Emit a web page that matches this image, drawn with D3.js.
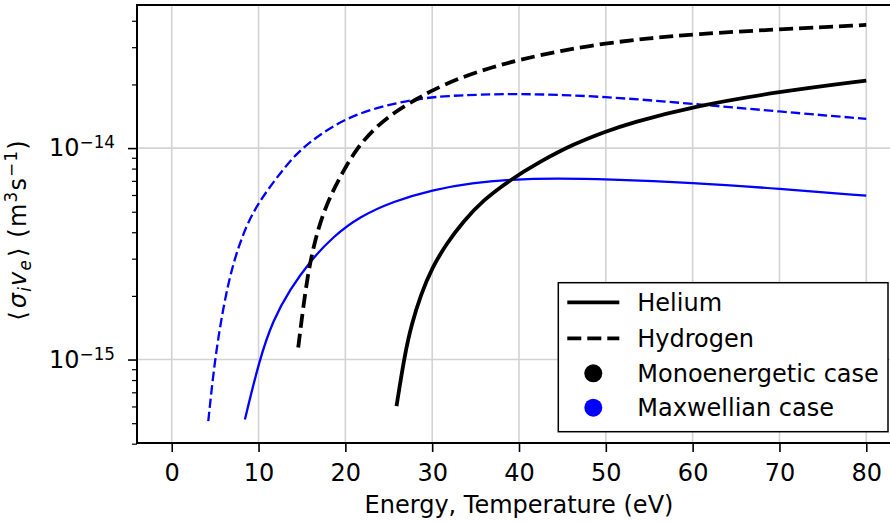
<!DOCTYPE html>
<html>
  <script src="https://d3js.org/d3.v7.min.js"></script>
  <style>
    body { margin: 0; background: #fff; }
    text { font-family: "DejaVu Sans", sans-serif; }
  </style>
  <body>
    <svg id="chart"></svg>
<script>
// ---------------------------
// Data
// ---------------------------
var heliumMono = [[25.89,6.02e-16],[26.84,1.056e-15],[27.62,1.463e-15],[28.69,2.028e-15],[29.99,2.72e-15],
  [31.65,3.53e-15],[33.56,4.485e-15],[35.86,5.67e-15],[38.93,7.05e-15],[42.38,8.61e-15],[46.21,1.042e-14],
  [50,1.198e-14],[52.74,1.31e-14],[59.95,1.572e-14],[70,1.851e-14],[80,2.086e-14]];
var hydrogenMono = [[14.57,1.139e-15],[15.11,1.722e-15],[15.68,2.52e-15],[16.26,3.31e-15],[17.07,4.44e-15],
  [18.22,5.89e-15],[19.71,7.73e-15],[21.33,1.0e-14],[23.4,1.247e-14],[25.7,1.484e-14],[28.35,1.719e-14],
  [30,1.875e-14],[33.17,2.148e-14],[36.63,2.395e-14],[40,2.613e-14],[44.69,2.882e-14],[50,3.133e-14],
  [55.04,3.308e-14],[60,3.455e-14],[70,3.648e-14],[80,3.823e-14]];
var hydrogenMaxw = [[4.21,5.11e-16],[4.93,9.79e-16],[5.94,1.786e-15],[7.09,2.903e-15],[8.63,4.366e-15],
  [10.16,5.64e-15],[12.08,7.24e-15],[14.38,9.5e-15],[17.07,1.162e-14],[20.14,1.386e-14],[23.97,1.572e-14],
  [27.8,1.691e-14],[30.87,1.766e-14],[40,1.819e-14],[50,1.753e-14],[60,1.619e-14],[70,1.489e-14],[80,1.375e-14]];
var heliumMaxw = [[8.43,5.21e-16],[10.1,1.0e-15],[11.69,1.545e-15],[13.61,2.14e-15],[15.91,2.912e-15],
  [18.6,3.823e-15],[21.67,4.75e-15],[25.5,5.595e-15],[30,6.353e-15],[34.71,6.856e-15],[38.93,7.099e-15],
  [44.3,7.2e-15],[50,7.12e-15],[60,6.856e-15],[70,6.424e-15],[80,5.953e-15]];

var xTicks = [0,10,20,30,40,50,60,70,80];
var yMajor = [1e-15, 1e-14];
var yMajorExp = ["\u221215", "\u221214"];
var yMinor = [4e-16,5e-16,6e-16,7e-16,8e-16,9e-16,2e-15,3e-15,4e-15,5e-15,6e-15,7e-15,8e-15,9e-15,2e-14,3e-14,4e-14];
var legendNames = ["Helium", "Hydrogen", "Monoenergetic case", "Maxwellian case"];

// ---------------------------
// Constants
// ---------------------------
var W = 890, H = 522;
var plotLeft = 137, plotRight = 901, plotTop = 5, plotBottom = 443;
var fontSize = 24, smallSize = 16.8;
var gridColour = "#d3d3d3";

var svg = d3.select("#chart").attr("width", W).attr("height", H);
svg.append("rect").attr("width", W).attr("height", H).attr("fill", "#fff");

var x = d3.scaleLinear().domain([-4, 84]).range([plotLeft, plotRight]);
var y = d3.scaleLog().domain([4.03e-16, 4.75e-14]).range([plotBottom, plotTop]);

// grid
var grid = svg.append("g");
grid.selectAll(".gx").data(xTicks).enter().append("line")
  .attr("x1", d => x(d)).attr("x2", d => x(d)).attr("y1", plotTop).attr("y2", plotBottom)
  .attr("stroke", gridColour).attr("stroke-width", 1.6);
grid.selectAll(".gy").data(yMajor).enter().append("line")
  .attr("y1", d => y(d)).attr("y2", d => y(d)).attr("x1", plotLeft).attr("x2", plotRight)
  .attr("stroke", gridColour).attr("stroke-width", 1.6);

// curves (basis spline smooths out reading noise)
svg.append("clipPath").attr("id", "clip").append("rect")
  .attr("x", plotLeft).attr("y", plotTop).attr("width", plotRight - plotLeft).attr("height", plotBottom - plotTop);
var line = d3.line().x(d => x(d[0])).y(d => y(d[1])).curve(d3.curveBasis);
var curves = svg.append("g").attr("clip-path", "url(#clip)");

function drawCurve(data, colour, width, dash) {
  curves.append("path").datum(data).attr("d", line)
    .attr("fill", "none").attr("stroke", colour).attr("stroke-width", width)
    .attr("stroke-dasharray", dash);
}
drawCurve(hydrogenMaxw, "#0000ff", 2.3, "9.5,4");
drawCurve(heliumMaxw, "#0000ff", 2.3, null);
drawCurve(hydrogenMono, "#000", 3.8, "14,6");
drawCurve(heliumMono, "#000", 3.8, null);

// x axis
var xAxis = svg.append("g").attr("transform", "translate(0," + plotBottom + ")")
  .call(d3.axisBottom(x).tickValues(xTicks).tickSize(9).tickPadding(12).tickFormat(d3.format("d")));
xAxis.select(".domain").remove();
xAxis.selectAll("line").attr("stroke-width", 1.6);
xAxis.selectAll("text").attr("font-size", fontSize).attr("fill", "#000")
  .style("font-family", "DejaVu Sans");

// y axis ticks
var yAxis = svg.append("g").attr("transform", "translate(" + plotLeft + ",0)")
  .call(d3.axisLeft(y).tickValues(yMajor).tickSize(9).tickFormat(""));
yAxis.select(".domain").remove();
yAxis.selectAll("line").attr("stroke-width", 1.6);
var yAxisMinor = svg.append("g").attr("transform", "translate(" + plotLeft + ",0)")
  .call(d3.axisLeft(y).tickValues(yMinor).tickSize(5).tickFormat(""));
yAxisMinor.select(".domain").remove();
yAxisMinor.selectAll("line").attr("stroke-width", 1.2);

// y tick labels 10^-n
yMajor.forEach(function(v, i) {
  var t = svg.append("text").attr("x", 115).attr("y", y(v) + 8.4)
    .attr("text-anchor", "end").attr("font-size", fontSize);
  t.append("tspan").text("10");
  t.append("tspan").attr("dy", -8.4).attr("font-size", smallSize).text(yMajorExp[i]);
});

// frame
svg.append("rect").attr("x", plotLeft).attr("y", plotTop).attr("width", plotRight - plotLeft).attr("height", plotBottom - plotTop)
  .attr("fill", "none").attr("stroke", "#000").attr("stroke-width", 2);

// axis titles
svg.append("text").attr("x", (plotLeft + plotRight) / 2).attr("y", 513.3)
  .attr("text-anchor", "middle").attr("font-size", fontSize)
  .text("Energy, Temperature (eV)");

var yl = svg.append("text").attr("transform", "translate(26,230) rotate(-90)")
  .attr("text-anchor", "middle").attr("font-size", fontSize).attr("letter-spacing", 1.2);
yl.append("tspan").text("\u27E8");
yl.append("tspan").attr("dx", 2).attr("font-style", "italic").text("\u03C3");
yl.append("tspan").attr("font-style", "italic").attr("font-size", smallSize).attr("dy", 5).text("i");
yl.append("tspan").attr("font-style", "italic").attr("dy", -5).text("v");
yl.append("tspan").attr("font-style", "italic").attr("font-size", smallSize).attr("dy", 5).text("e");
yl.append("tspan").attr("dx", 2).attr("dy", -5).text("\u27E9 (m");
yl.append("tspan").attr("font-size", smallSize).attr("dy", -9).text("3");
yl.append("tspan").attr("dy", 9).text("s");
yl.append("tspan").attr("font-size", smallSize).attr("dy", -9).text("\u22121");
yl.append("tspan").attr("dy", 9).text(")");

// legend
var lg = svg.append("g");
lg.append("rect").attr("x", 558.3).attr("y", 282.7).attr("width", 329.7).attr("height", 149)
  .attr("fill", "#fff").attr("stroke", "#000").attr("stroke-width", 1.5);
var rowY = [302.3, 338.3, 373.3, 407.7];
lg.append("line").attr("x1", 567.3).attr("x2", 619.3).attr("y1", rowY[0]).attr("y2", rowY[0])
  .attr("stroke", "#000").attr("stroke-width", 3.8);
lg.append("line").attr("x1", 567.3).attr("x2", 619.3).attr("y1", rowY[1]).attr("y2", rowY[1])
  .attr("stroke", "#000").attr("stroke-width", 3.8).attr("stroke-dasharray", "14,6");
lg.append("circle").attr("cx", 593.3).attr("cy", rowY[2]).attr("r", 9).attr("fill", "#000");
lg.append("circle").attr("cx", 593.3).attr("cy", rowY[3]).attr("r", 9).attr("fill", "#0000ff");
lg.selectAll(".lt").data(legendNames).enter().append("text")
  .attr("x", 637.3).attr("y", (d, i) => rowY[i] + 8.3)
  .attr("font-size", fontSize).text(d => d);
</script>
  </body>
</html>
